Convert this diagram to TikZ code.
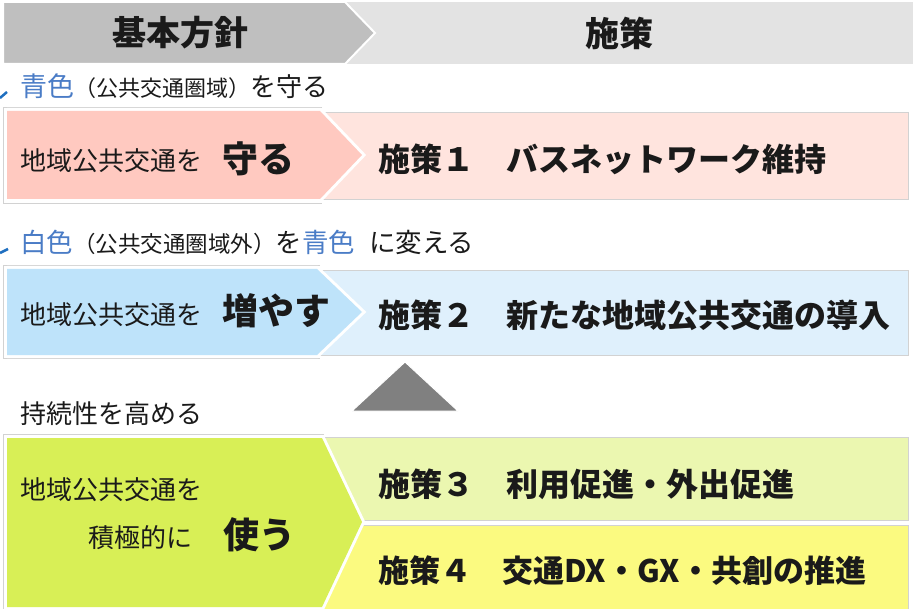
\documentclass[tikz,border=0pt]{standalone}
\usepackage{fontspec}
\setmainfont{Noto Sans CJK JP}
\definecolor{hdrdark}{HTML}{BFBFBF}
\definecolor{hdrlight}{HTML}{E3E3E3}
\definecolor{pinkA}{HTML}{FFC9C0}
\definecolor{pinkB}{HTML}{FFE4DE}
\definecolor{blueA}{HTML}{BEE3FA}
\definecolor{blueB}{HTML}{DFF0FC}
\definecolor{greenA}{HTML}{D8EF56}
\definecolor{greenB}{HTML}{EBF7B0}
\definecolor{yellowB}{HTML}{FBFA80}
\definecolor{bordergray}{HTML}{D2D2D2}
\definecolor{txtblue}{HTML}{4A7CC6}
\definecolor{markblue}{HTML}{1F6FC0}
\definecolor{txt}{HTML}{1A1A1A}
\definecolor{tri}{HTML}{808080}
\tikzset{
  lbl/.style={anchor=west, inner sep=0pt, text=txt, font=\fontsize{26pt}{28pt}\selectfont},
  bigw/.style={anchor=west, inner sep=0pt, text=txt, font=\fontsize{36pt}{38pt}\selectfont\bfseries},
  meas/.style={anchor=west, inner sep=0pt, text=txt, font=\fontsize{32pt}{34pt}\selectfont\bfseries},
  hdr/.style={inner sep=0pt, text=txt, font=\fontsize{34pt}{36pt}\selectfont\bfseries},
  rbox/.style={draw=bordergray, line width=0.8pt},
  sepline/.style={draw=white, line width=6pt, line join=miter},
  outerline/.style={draw=bordergray, line width=0.8pt},
  bluetick/.style={draw=markblue, line width=2.5pt},
}
\begin{document}
\begin{tikzpicture}[x=1pt, y=-1pt]
\useasboundingbox (0,0) rectangle (915,609);

% header
\fill[hdrlight] (345,2) rectangle (913,64);
\fill[hdrdark, draw=white, line width=2pt] (3,2) -- (345,2) -- (375,33) -- (345,64) -- (3,64) -- cycle;
\node[hdr] (h1) at (180,33) {基本方針};
\node[hdr] (h2) at (619,33) {施策};

% line 1
\draw[bluetick] (0,98) -- (7,92);
\node[anchor=west, inner sep=0pt] (l1) at (20,86) {\fontsize{27pt}{28pt}\selectfont\color{txtblue}青色\color{txt}\fontsize{22pt}{23pt}\selectfont（公共交通圏域）\fontsize{26pt}{28pt}\selectfont を守る};

% row 1
\fill[pinkB] (320,112) rectangle (908,199);
\draw[rbox] (320,112) rectangle (908,199);
\draw[outerline] (322,107) -- (3,107) -- (3,203) -- (322,203);
\draw[sepline] (7,111) -- (320,111) -- (362,155) -- (320,199) -- (7,199);
\fill[pinkA] (7,111) -- (320,111) -- (362,155) -- (320,199) -- (7,199) -- cycle;
\node[lbl] (r1a) at (20,161) {地域公共交通を};
\node[bigw] (r1b) at (222,159) {守る};
\node[meas] (m1) at (378,159) {施策１　バスネットワーク維持};

% line 2
\draw[bluetick] (0,253) -- (8,249);
\node[anchor=west, inner sep=0pt] (l2) at (20,242) {\fontsize{26.5pt}{28pt}\selectfont\color{txtblue}白色\color{txt}\fontsize{22.5pt}{23pt}\selectfont（公共交通圏域外）\fontsize{26.5pt}{28pt}\selectfont を\color{txtblue}青色\color{txt}\hspace{14pt}に変える};

% row 2
\fill[blueB] (317,270) rectangle (908,355);
\draw[rbox] (317,270) rectangle (908,355);
\draw[outerline] (320,265) -- (3,265) -- (3,358) -- (320,358);
\draw[sepline] (7,269) -- (317,269) -- (362,312) -- (317,355) -- (7,355);
\fill[blueA] (7,269) -- (317,269) -- (362,312) -- (317,355) -- (7,355) -- cycle;
\node[lbl] (r2a) at (20,315) {地域公共交通を};
\node[bigw] (r2b) at (222,311) {増やす};
\node[meas] (m2) at (378,315) {施策２　新たな地域公共交通の導入};

% triangle
\fill[tri, draw=white, line width=1pt] (405,362) -- (458,411) -- (352,411) -- cycle;
\node[lbl] (l3) at (20,414) {持続性を高める};

% row 3
\fill[greenB] (322,437) rectangle (908,520);
\draw[rbox] (322,437) rectangle (908,520);
\fill[yellowB] (322,525) rectangle (908,611);
\draw[rbox] (322,525) -- (908,525) -- (908,611);
\draw[outerline] (324,434) -- (3,434) -- (3,611);
\draw[sepline] (7,438) -- (322,438) -- (362,522) -- (322,607) -- (7,607);
\fill[greenA] (7,438) -- (322,438) -- (362,522) -- (322,607) -- (7,607) -- cycle;
\node[lbl] (r3a) at (20,490) {地域公共交通を};
\node[lbl] (r3b) at (88,538) {積極的に};
\node[bigw] (r3c) at (223,535) {使う};
\node[meas] (m3) at (378,484) {施策３　利用促進・外出促進};
\node[meas, font=\fontsize{31pt}{33pt}\selectfont\bfseries] (m4) at (378,571) {施策４　交通DX・GX・共創の推進};
\end{tikzpicture}
\end{document}
